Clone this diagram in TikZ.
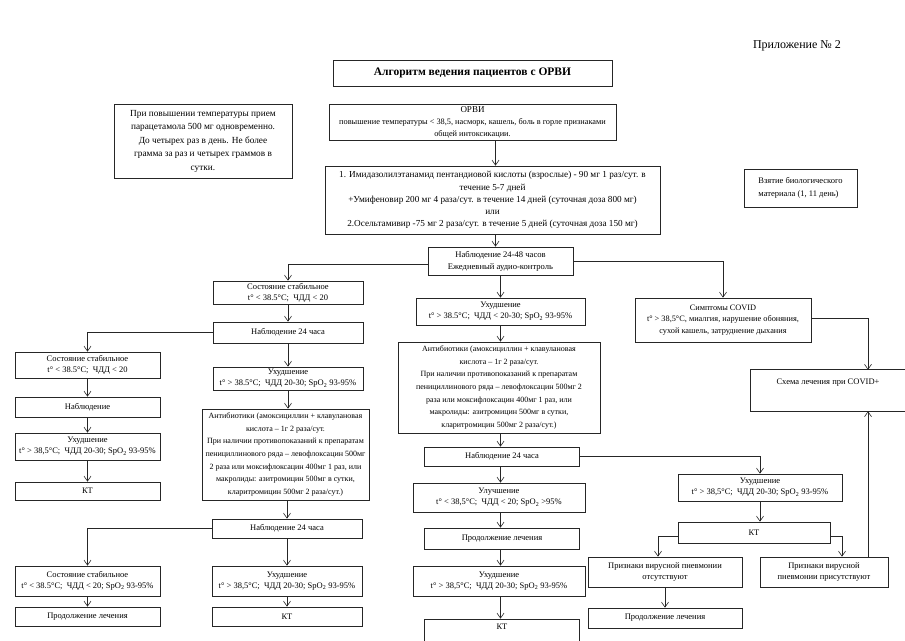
\documentclass[tikz,border=0pt]{standalone}
\usepackage{fontspec}
\setmainfont{Liberation Serif}
\usetikzlibrary{arrows.meta,calc}
\newcommand{\spo}{SpO\textsubscript{2}}
\begin{document}
\begin{tikzpicture}[x=1pt,y=-1pt,
  box/.style={draw=black!85, line width=0.7pt, rectangle, inner sep=0pt, align=center, font=\fontsize{8.5}{11}\selectfont},
  ln/.style={draw=black!85, line width=0.6pt},
  arr/.style={draw=black!85, line width=0.6pt, -{Straight Barb[length=5pt,width=7pt]}}]
\useasboundingbox (0,0) rectangle (905,640);
\clip (0,0) rectangle (905,640);

% header
\node[font=\fontsize{12}{14}\selectfont, inner sep=0pt] (app) at (797,46) {Приложение № 2};
\node[box, minimum width=279pt, minimum height=26pt, font=\bfseries\fontsize{11.5}{13}\selectfont] (title) at (472.5,73) {Алгоритм ведения пациентов с ОРВИ};

\node[box, minimum width=178pt, minimum height=74pt, font=\fontsize{9.3}{13.5}\selectfont] (parac) at (203,141) {При повышении температуры прием\\парацетамола 500 мг одновременно.\\До четырех раз в день. Не более\\грамма за раз и четырех граммов в\\сутки.};

\node[box, minimum width=287pt, minimum height=36pt, font=\fontsize{8.3}{12}\selectfont] (orvi) at (472.5,122) {{\fontsize{9}{12}\selectfont ОРВИ}\\повышение температуры < 38,5, насморк, кашель, боль в горле признаками\\общей интоксикации.};

\node[box, minimum width=335pt, minimum height=68pt, font=\fontsize{9.2}{12.2}\selectfont] (med) at (492.5,200) {1. Имидазолилэтанамид пентандиовой кислоты (взрослые) - 90 мг 1 раз/сут. в\\течение 5-7 дней\\+Умифеновир 200 мг 4 раза/сут. в течение 14 дней (суточная доза 800 мг)\\или\\2.Осельтамивир -75 мг 2 раза/сут. в течение 5 дней (суточная доза 150 мг)};

\node[box, minimum width=113pt, minimum height=38pt, align=left, font=\fontsize{8.5}{13}\selectfont] (bio) at (800.5,188) {Взятие биологического\\материала (1, 11 день)};

\node[box, minimum width=145pt, minimum height=28pt, font=\fontsize{8.6}{12}\selectfont] (obs) at (500.5,261) {Наблюдение 24-48 часов\\Ежедневный аудио-контроль};

% column 2 (top)
\node[box, minimum width=150pt, minimum height=23pt] (st2) at (288,292.5) {Состояние стабильное\\t° < 38.5°C;\enspace ЧДД < 20};
\node[box, minimum width=150pt, minimum height=21pt] (nab2) at (288,332.5) {Наблюдение 24 часа};
\node[box, minimum width=150pt, minimum height=23pt] (uh2) at (288,378.5) {Ухудшение\\t° > 38.5°C;\enspace ЧДД 20-30; \spo{} 93-95\%};
\node[box, minimum width=167pt, minimum height=91pt, font=\fontsize{8}{12.6}\selectfont] (ab2) at (285.5,454.5) {Антибиотики (амоксициллин + клавулановая\\кислота – 1г 2 раза/сут.\\При наличии противопоказаний к препаратам\\пенициллинового ряда – левофлоксацин 500мг\\2 раза или моксифлоксацин 400мг 1 раз, или\\макролиды: азитромицин 500мг в сутки,\\кларитромицин 500мг 2 раза/сут.)};
\node[box, minimum width=150pt, minimum height=19pt] (nab2b) at (287,528.5) {Наблюдение 24 часа};
\node[box, minimum width=150pt, minimum height=30pt] (uh2b) at (287,581) {Ухудшение\\t° > 38,5°C;\enspace ЧДД 20-30; \spo{} 93-95\%};
\node[box, minimum width=150pt, minimum height=19pt] (kt2) at (287,616.5) {КТ};

% column 1
\node[box, minimum width=145pt, minimum height=26pt] (st1) at (87.5,365) {Состояние стабильное\\t° < 38.5°C;\enspace ЧДД < 20};
\node[box, minimum width=145pt, minimum height=20pt] (nab1) at (87.5,407) {Наблюдение};
\node[box, minimum width=145pt, minimum height=27pt] (uh1) at (87.5,446.5) {Ухудшение\\t° > 38,5°C;\enspace ЧДД 20-30; \spo{} 93-95\%};
\node[box, minimum width=145pt, minimum height=18pt] (kt1) at (87.5,491) {КТ};
\node[box, minimum width=145pt, minimum height=30pt] (st1b) at (87.5,581) {Состояние стабильное\\t° < 38.5°C;\enspace ЧДД < 20; \spo{} 93-95\%};
\node[box, minimum width=145pt, minimum height=19pt] (pr1) at (87.5,616.5) {Продолжение лечения};

% column 3
\node[box, minimum width=169pt, minimum height=27pt] (uh3) at (500.5,311.5) {Ухудшение\\t° > 38.5°C;\enspace ЧДД < 20-30; \spo{} 93-95\%};
\node[box, minimum width=202pt, minimum height=91pt, font=\fontsize{8}{12.6}\selectfont] (ab3) at (499,387.5) {Антибиотики (амоксициллин + клавулановая\\кислота – 1г 2 раза/сут.\\При наличии противопоказаний к препаратам\\пенициллинового ряда – левофлоксацин 500мг 2\\раза или моксифлоксацин 400мг 1 раз, или\\макролиды: азитромицин 500мг в сутки,\\кларитромицин 500мг 2 раза/сут.)};
\node[box, minimum width=155pt, minimum height=19pt] (nab3) at (502,456.5) {Наблюдение 24 часа};
\node[box, minimum width=172pt, minimum height=29pt] (ul3) at (499,497.5) {Улучшение\\t° < 38,5°C;\enspace ЧДД < 20; \spo{} >95\%};
\node[box, minimum width=155pt, minimum height=21pt] (pr3) at (502,538.5) {Продолжение лечения};
\node[box, minimum width=172pt, minimum height=30pt] (uh3b) at (499,581) {Ухудшение\\t° > 38,5°C;\enspace ЧДД 20-30; \spo{} 93-95\%};
\node[box, minimum width=155pt, minimum height=24pt, text depth=12pt, text height=8pt] (kt3) at (502,631) {КТ};

% column 4
\node[box, minimum width=176pt, minimum height=44pt, font=\fontsize{8.3}{11.8}\selectfont] (covid) at (723,320) {Симптомы COVID\\t° > 38,5°C, миалгия, нарушение обоняния,\\сухой кашель, затруднение дыхания};
\node[inner sep=0pt, minimum width=154pt, minimum height=41pt, text height=14pt, text depth=27pt, font=\fontsize{8.5}{11}\selectfont] (schema) at (828,390.5) {Схема лечения при COVID+};
\draw[ln, line width=0.7pt] (schema.north east) -- (schema.north west) -- (schema.south west) -- (schema.south east);
\node[box, minimum width=164pt, minimum height=27pt] (uh4) at (760,487.5) {Ухудшение\\t° > 38,5°C;\enspace ЧДД 20-30; \spo{} 93-95\%};
\node[box, minimum width=152pt, minimum height=21pt] (kt4) at (754,532.5) {КТ};
\node[box, minimum width=154pt, minimum height=30pt] (ots) at (665,572) {Признаки вирусной пневмонии\\отсутствуют};
\node[box, minimum width=128pt, minimum height=30pt] (pres) at (824,572) {Признаки вирусной\\пневмонии присутствуют};
\node[box, minimum width=154pt, minimum height=20pt] (pr4) at (665,618) {Продолжение лечения};

% connectors: top
\draw[arr] ([xshift=23pt]orvi.south) -- ([xshift=23pt]orvi.south |- med.north);
\draw[arr] ([xshift=3pt]med.south) -- ([xshift=3pt]med.south |- obs.north);
\draw[arr] ([yshift=-3pt]obs.west) -| (st2.north);
\draw[arr] (obs.south) -- (obs.south |- uh3.north);
\draw[arr] (obs.east) -| (covid.north);
\coordinate (sx) at ([xshift=40pt]schema.north);
\draw[arr] ([yshift=2pt]covid.east) -| (sx);

% column 2
\draw[arr] (st2) -- (nab2);
\draw[arr] (nab2.west) -| (st1.north);
\draw[arr] (nab2) -- (uh2);
\draw[arr] (uh2.south) -- (uh2.south |- ab2.north);
\draw[arr] (ab2.south -| nab2b.north) -- (nab2b.north);
\draw[arr] (nab2b.west) -| (st1b.north);
\draw[arr] (nab2b) -- (uh2b);
\draw[arr] (uh2b) -- (kt2);

% column 1
\draw[arr] (st1) -- (nab1);
\draw[arr] (nab1) -- (uh1);
\draw[arr] (uh1) -- (kt1);
\draw[arr] (st1b) -- (pr1);

% column 3
\draw[arr] (uh3.south) -- (uh3.south |- ab3.north);
\draw[arr] (ab3.south -| uh3.south) -- (uh3.south |- nab3.north);
\draw[arr] (nab3.south -| uh3.south) -- (uh3.south |- ul3.north);
\draw[arr] (ul3.south -| uh3.south) -- (uh3.south |- pr3.north);
\draw[arr] (pr3.south -| uh3.south) -- (uh3.south |- uh3b.north);
\draw[arr] (uh3b.south -| uh3.south) -- (uh3.south |- kt3.north);

% column 4
\draw[arr] (nab3.east) -| (uh4.north);
\draw[arr] (uh4.south) -- (uh4.south |- kt4.north);
\draw[arr] ([yshift=-4pt]kt4.west) -| ([xshift=-7pt]ots.north);
\draw[arr] ([yshift=-4pt]kt4.east) -| ([xshift=18pt]pres.north);
\draw[arr] (ots) -- (pr4);
\coordinate (px) at ([xshift=44pt]pres.north);
\draw[arr] (px) -- (px |- schema.south);
\end{tikzpicture}
\end{document}
